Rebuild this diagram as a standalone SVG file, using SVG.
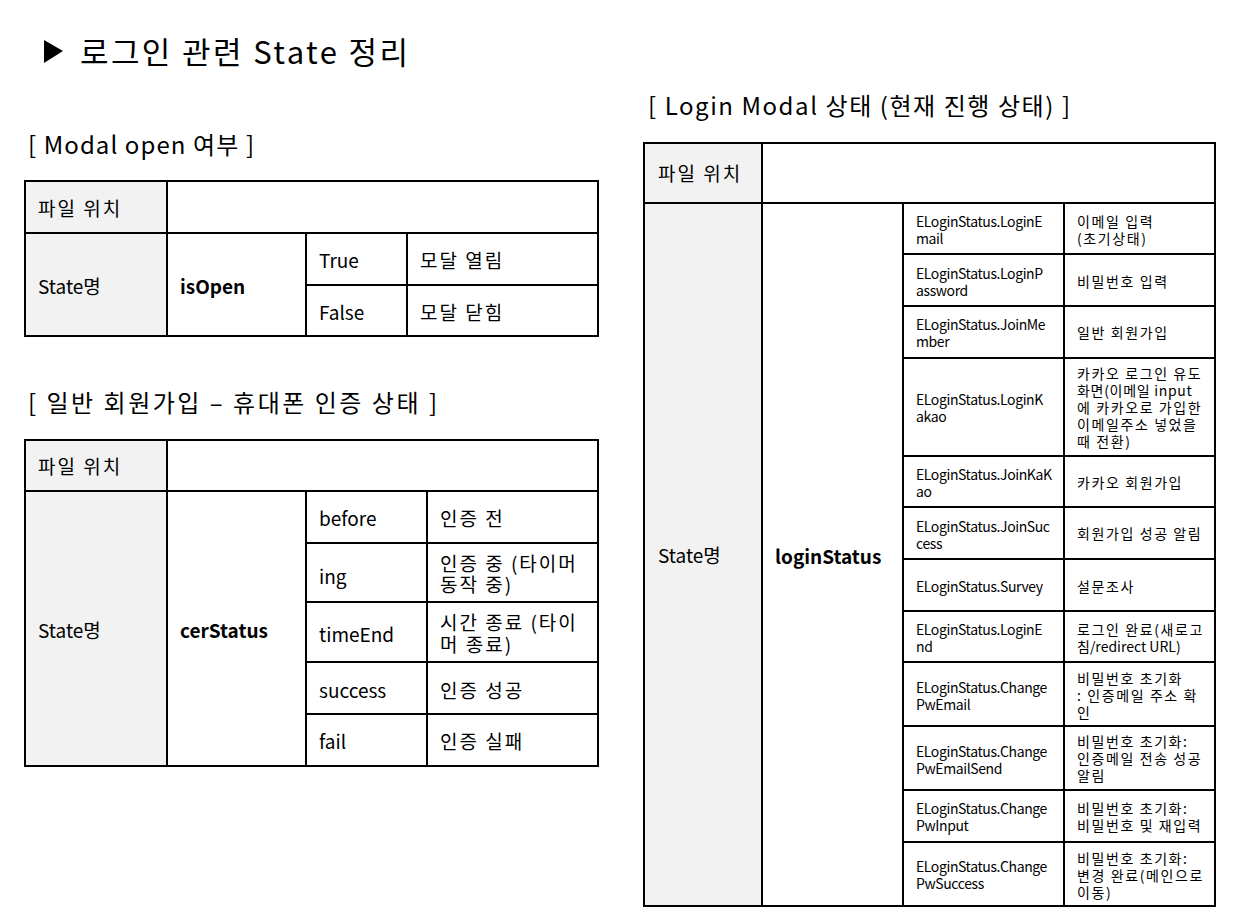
<svg xmlns="http://www.w3.org/2000/svg" width="1240" height="923" viewBox="0 0 1240 923">
<style>
text{font-family:"Noto Sans CJK KR","Noto Sans",sans-serif;fill:#000;dominant-baseline:central}
.t{font-size:31px}
.h{font-size:24px}
.c{font-size:19px}
.ck{font-size:19px;letter-spacing:2px}
.b{font-size:19px;font-weight:bold}
.s{font-size:14px;letter-spacing:-0.4px}
.k{font-size:14px;letter-spacing:1.6px}
.m{font-size:14px;letter-spacing:0.7px}
.hd{fill:#f2f2f2;stroke:none}
.ln{stroke:#000;stroke-width:2;fill:none}
</style>
<rect width="1240" height="923" fill="#fff"/>
<g id="title">
<polygon points="44,40 63,51 44,63" fill="#000"/>
<text class="t" x="80" y="50" textLength="328" lengthAdjust="spacing">로그인 관련 State 정리</text>
</g>

<g id="table-modal-open">
<text class="h" x="28" y="143" textLength="226" lengthAdjust="spacing">[ Modal open 여부 ]</text>
<rect class="hd" x="25" y="181" width="142" height="155"/>
<g class="ln">
<rect x="25" y="181" width="573" height="155"/>
<line x1="25" y1="233" x2="598" y2="233"/>
<line x1="306" y1="285" x2="598" y2="285"/>
<line x1="167" y1="181" x2="167" y2="336"/>
<line x1="306" y1="233" x2="306" y2="336"/>
<line x1="407" y1="233" x2="407" y2="336"/>
</g>
<text class="ck" x="38" y="207">파일 위치</text>
<text class="c" x="38" y="285">State명</text>
<text class="b" x="180" y="285">isOpen</text>
<text class="c" x="319" y="259">True</text>
<text class="ck" x="420" y="259">모달 열림</text>
<text class="c" x="319" y="311">False</text>
<text class="ck" x="420" y="311">모달 닫힘</text>
</g>

<g id="table-cer-status">
<text class="h" x="28" y="401" textLength="409" lengthAdjust="spacing">[ 일반 회원가입 – 휴대폰 인증 상태 ]</text>
<rect class="hd" x="25" y="440" width="142" height="326"/>
<g class="ln">
<rect x="25" y="440" width="573" height="326"/>
<line x1="25" y1="491" x2="598" y2="491"/>
<line x1="306" y1="543" x2="598" y2="543"/>
<line x1="306" y1="602" x2="598" y2="602"/>
<line x1="306" y1="662" x2="598" y2="662"/>
<line x1="306" y1="714" x2="598" y2="714"/>
<line x1="167" y1="440" x2="167" y2="766"/>
<line x1="306" y1="491" x2="306" y2="766"/>
<line x1="427" y1="491" x2="427" y2="766"/>
</g>
<text class="ck" x="38" y="465">파일 위치</text>
<text class="c" x="38" y="629">State명</text>
<text class="b" x="180" y="629">cerStatus</text>
<text class="c" x="319" y="517">before</text>
<text class="ck" x="440" y="517">인증 전</text>
<text class="c" x="319" y="575">ing</text>
<text class="ck" x="440" y="562">인증 중 (타이머<tspan x="440" dy="21">동작 중)</tspan></text>
<text class="c" x="319" y="633">timeEnd</text>
<text class="ck" x="440" y="621">시간 종료 (타이<tspan x="440" dy="22">머 종료)</tspan></text>
<text class="c" x="319" y="689">success</text>
<text class="ck" x="440" y="689">인증 성공</text>
<text class="c" x="319" y="740">fail</text>
<text class="ck" x="440" y="740">인증 실패</text>
</g>

<g id="table-login-status">
<text class="h" x="648" y="104" textLength="422" lengthAdjust="spacing">[ Login Modal 상태 (현재 진행 상태) ]</text>
<rect class="hd" x="644" y="143" width="118" height="763"/>
<g class="ln">
<rect x="644" y="143" width="571" height="763"/>
<line x1="644" y1="203" x2="1215" y2="203"/>
<line x1="903" y1="254" x2="1215" y2="254"/>
<line x1="903" y1="306" x2="1215" y2="306"/>
<line x1="903" y1="358" x2="1215" y2="358"/>
<line x1="903" y1="456" x2="1215" y2="456"/>
<line x1="903" y1="507" x2="1215" y2="507"/>
<line x1="903" y1="559" x2="1215" y2="559"/>
<line x1="903" y1="611" x2="1215" y2="611"/>
<line x1="903" y1="662" x2="1215" y2="662"/>
<line x1="903" y1="726" x2="1215" y2="726"/>
<line x1="903" y1="790" x2="1215" y2="790"/>
<line x1="903" y1="842" x2="1215" y2="842"/>
<line x1="762" y1="143" x2="762" y2="906"/>
<line x1="903" y1="203" x2="903" y2="906"/>
<line x1="1064" y1="203" x2="1064" y2="906"/>
</g>
<text class="ck" x="658" y="172">파일 위치</text>
<text class="c" x="658" y="554">State명</text>
<text class="b" x="775" y="555">loginStatus</text>

<text class="s" x="916" y="221">ELoginStatus.LoginE<tspan x="916" dy="17">mail</tspan></text>
<text class="k" x="1077" y="221">이메일 입력<tspan x="1077" dy="17">(초기상태)</tspan></text>

<text class="s" x="916" y="273">ELoginStatus.LoginP<tspan x="916" dy="17">assword</tspan></text>
<text class="k" x="1077" y="281">비밀번호 입력</text>

<text class="s" x="916" y="324">ELoginStatus.JoinMe<tspan x="916" dy="17">mber</tspan></text>
<text class="k" x="1077" y="332">일반 회원가입</text>

<text class="s" x="916" y="399">ELoginStatus.LoginK<tspan x="916" dy="17">akao</tspan></text>
<text class="k" x="1077" y="373">카카오 로그인 유도<tspan x="1077" dy="17" class="m">화면(이메일 input</tspan><tspan x="1077" dy="17">에 카카오로 가입한</tspan><tspan x="1077" dy="17">이메일주소 넣었을</tspan><tspan x="1077" dy="17">때 전환)</tspan></text>

<text class="s" x="916" y="474">ELoginStatus.JoinKaK<tspan x="916" dy="17">ao</tspan></text>
<text class="k" x="1077" y="482">카카오 회원가입</text>

<text class="s" x="916" y="526">ELoginStatus.JoinSuc<tspan x="916" dy="17">cess</tspan></text>
<text class="k" x="1077" y="533">회원가입 성공 알림</text>

<text class="s" x="916" y="586">ELoginStatus.Survey</text>
<text class="k" x="1077" y="586">설문조사</text>

<text class="s" x="916" y="629">ELoginStatus.LoginE<tspan x="916" dy="17">nd</tspan></text>
<text class="k" x="1077" y="629">로그인 완료(새로고<tspan x="1077" dy="17" style="letter-spacing:0">침/redirect URL)</tspan></text>

<text class="s" x="916" y="687">ELoginStatus.Change<tspan x="916" dy="17">PwEmail</tspan></text>
<text class="k" x="1077" y="678">비밀번호 초기화<tspan x="1077" dy="17">: 인증메일 주소 확</tspan><tspan x="1077" dy="17">인</tspan></text>

<text class="s" x="916" y="751">ELoginStatus.Change<tspan x="916" dy="17">PwEmailSend</tspan></text>
<text class="k" x="1077" y="741">비밀번호 초기화:<tspan x="1077" dy="17">인증메일 전송 성공</tspan><tspan x="1077" dy="17">알림</tspan></text>

<text class="s" x="916" y="808">ELoginStatus.Change<tspan x="916" dy="17">PwInput</tspan></text>
<text class="k" x="1077" y="808">비밀번호 초기화:<tspan x="1077" dy="17">비밀번호 및 재입력</tspan></text>

<text class="s" x="916" y="866">ELoginStatus.Change<tspan x="916" dy="17">PwSuccess</tspan></text>
<text class="k" x="1077" y="858">비밀번호 초기화:<tspan x="1077" dy="17">변경 완료(메인으로</tspan><tspan x="1077" dy="17">이동)</tspan></text>
</g>
</svg>
